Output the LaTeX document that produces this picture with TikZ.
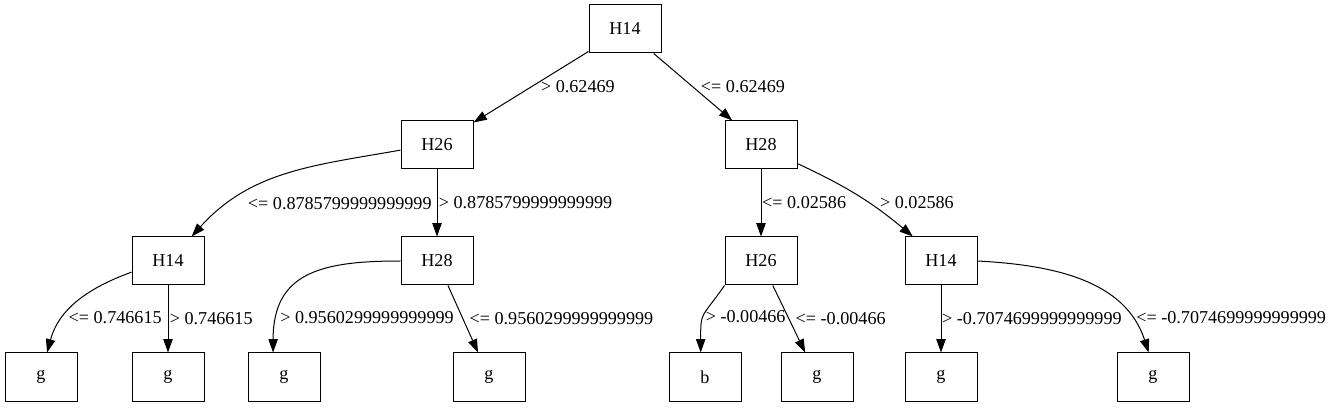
\documentclass[tikz,border=0pt]{standalone}
\usepackage{fontspec}
\setmainfont{Liberation Serif}
\usetikzlibrary{arrows.meta}

\tikzset{
  box/.style={draw, rectangle, minimum width=54pt, minimum height=36pt, inner sep=0pt},
  lab/.style={inner sep=0pt},
}

\begin{document}
\begin{tikzpicture}[x=0.75pt, y=0.75pt, font=\fontsize{13.6}{16}\selectfont,
  line width=0.75pt, >={Triangle[length=10pt, width=7pt]}]
 \useasboundingbox (0,0) rectangle (1335,407);

 \node [box] (r) at (625,378) {H14};

 \node [box] (a) at (437,262) {H26};
 \node [box] (b) at (761,262) {H28};

 \node [box] (c) at (168,146) {H14};
 \node [box] (d) at (437,146) {H28};
 \node [box] (e) at (761,146) {H26};
 \node [box] (f) at (941,146) {H14};

 \node [box] (n1) at (41,30) {g};
 \node [box] (n2) at (168,30) {g};
 \node [box] (n3) at (284,30) {g};
 \node [box] (n4) at (489,30) {g};
 \node [box] (n5) at (705,30) {b};
 \node [box] (n6) at (817,30) {g};
 \node [box] (n7) at (941,30) {g};
 \node [box] (n8) at (1153,30) {g};

 \draw [->] (r) edge node [lab, right=6.3pt, pos=.49] {> 0.62469} (a);
 \draw [->] (r) edge node [lab, right=6.2pt, pos=.49] {<= 0.62469} (b);

 \draw (a.188) edge [->, out=190, in=48] node [lab, right=14.8pt, pos=.8] {<= 0.8785799999999999} (c.46);
 \draw [->] (a) edge node [lab, right=1pt, pos=.5] {> 0.8785799999999999} (d);

 \draw [->] (b) edge node [lab, right=.5pt, pos=.5] {<= 0.02586} (e);
 \draw (b.333) edge [->, out=-25, in=140] node [lab, right=8.3pt, pos=.6] {> 0.02586} (f.139);

 \draw (c.197) edge [->, out=200, in=75] node [lab, right=3.8pt, pos=.69] {<= 0.746615} (n1.76);
 \draw [->] (c) edge node [lab, right=1pt, pos=.49] {> 0.746615} (n2);

 \draw (d.west) edge [->, out=180, in=90, looseness=1.3] node [lab, right=2pt, pos=.83] {> 0.9560299999999999} (n3.114);
 \draw [->] (d) edge node [lab, right=4.8pt, pos=.49] {<= 0.9560299999999999} (n4);

 \draw (e.south west) edge [->, out=235, in=90, looseness=1.5] node [lab, right=1.5pt, pos=.52] {> -0.00466} (n5.100);
 \draw [->] (e) edge node [lab, right=4.9pt, pos=.49] {<= -0.00466} (n6);

 \draw [->] (f) edge node [lab, right=.5pt, pos=.49] {> -0.7074699999999999} (n7);
 \draw (f.east) edge [->, out=-3, in=108] node [lab, right=4.1pt, pos=.81] {<= -0.7074699999999999} (n8.100);
\end{tikzpicture}
\end{document}
